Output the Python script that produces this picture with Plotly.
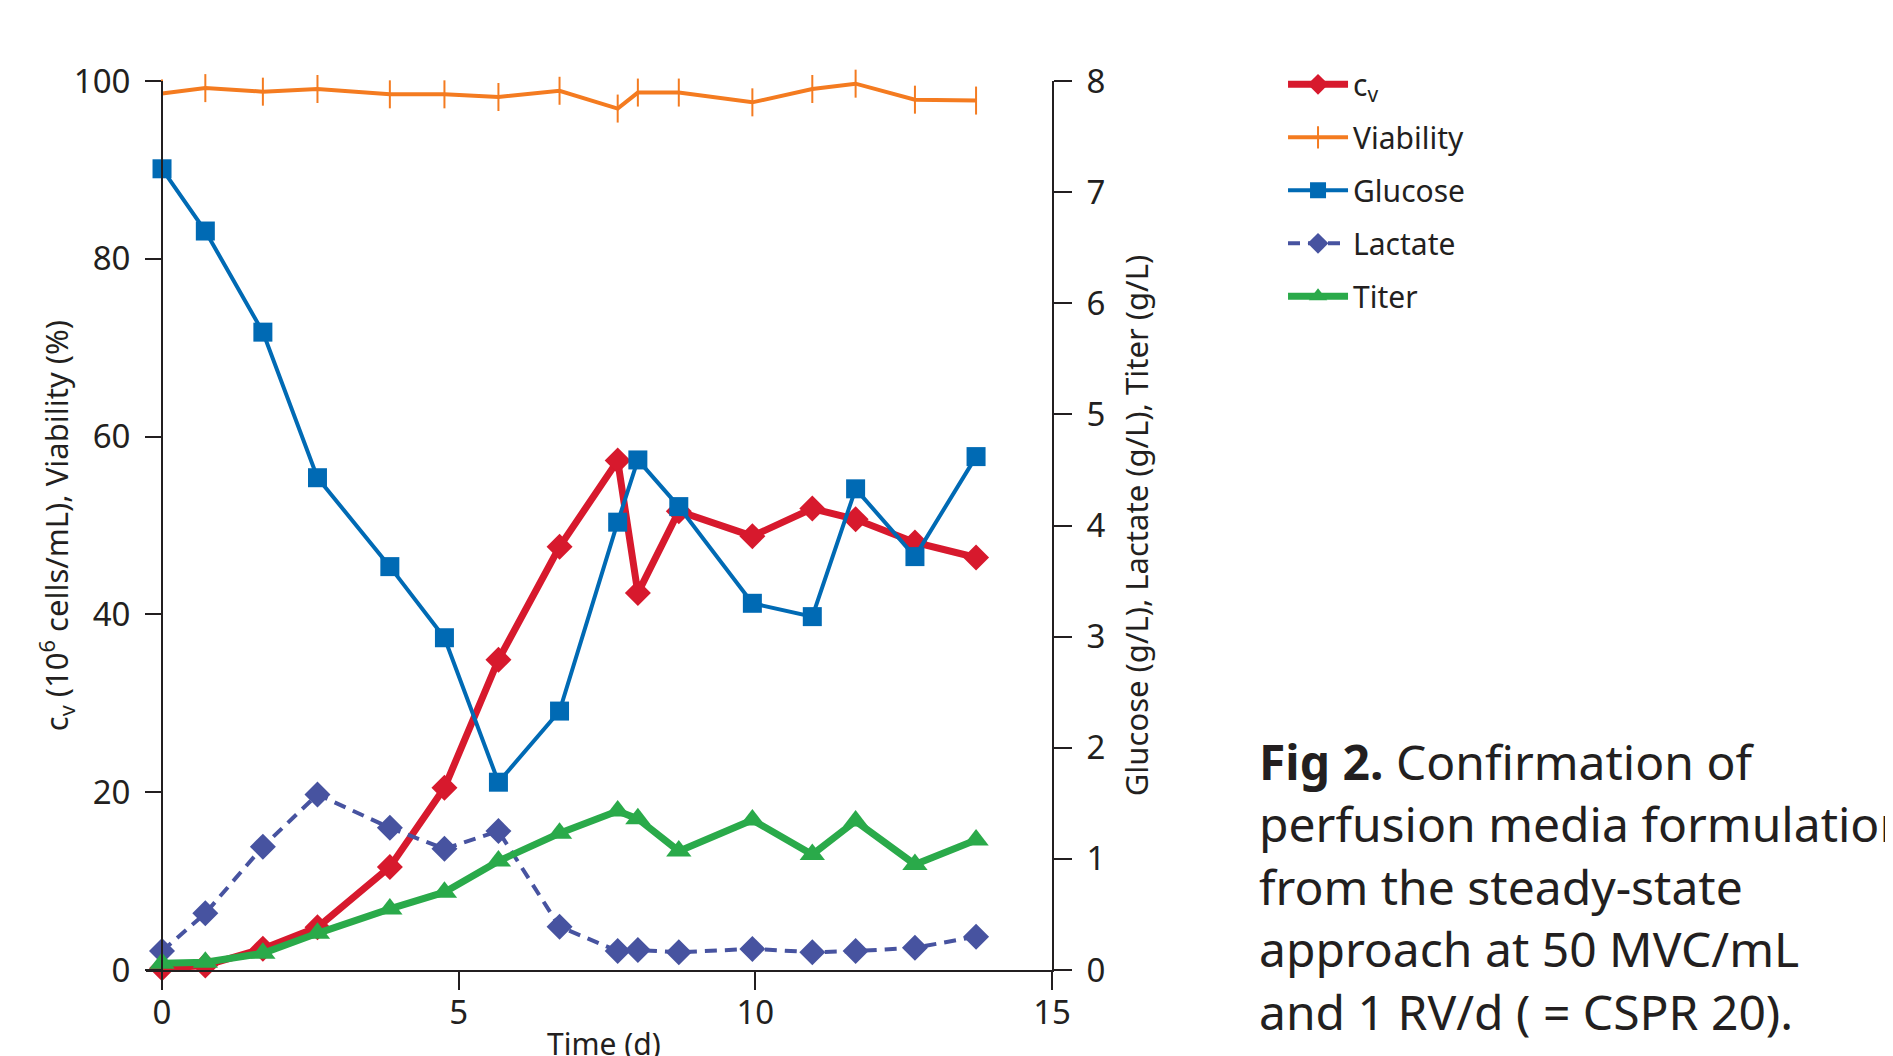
import plotly.graph_objects as go

# ---- data ----
time_d = [0, 0.73, 1.70, 2.62, 3.84, 4.76, 5.67, 6.70, 7.68, 8.02, 8.71, 9.95, 10.96, 11.69, 12.69, 13.72]
cv = [0.2, 0.5, 2.4, 4.8, 11.6, 20.5, 34.9, 47.6, 57.3, 42.4, 51.6, 48.8, 51.9, 50.7, 48.1, 46.4]
viability = [98.6, 99.2, 98.8, 99.1, 98.5, 98.5, 98.2, 98.9, 96.9, 98.7, 98.7, 97.6, 99.1, 99.7, 97.9, 97.8]
glucose = [7.21, 6.65, 5.74, 4.43, 3.63, 2.99, 1.69, 2.33, 4.03, 4.59, 4.17, 3.30, 3.18, 4.33, 3.72, 4.62]
lactate = [0.17, 0.51, 1.11, 1.58, 1.28, 1.09, 1.25, 0.39, 0.17, 0.18, 0.16, 0.19, 0.16, 0.17, 0.20, 0.30]
titer = [0.06, 0.07, 0.15, 0.33, 0.55, 0.70, 0.98, 1.23, 1.43, 1.36, 1.07, 1.35, 1.04, 1.34, 0.95, 1.17]

x_ticks = [0, 5, 10, 15]
y_left_ticks = [0, 20, 40, 60, 80, 100]
y_right_ticks = [0, 1, 2, 3, 4, 5, 6, 7, 8]

RED = "#D7192D"
ORANGE = "#F47B20"
BLUE = "#006AB4"
SLATE = "#4753A0"
GREEN = "#2AAA4A"
INK = "#231F20"
FONT = "Noto Sans"

X_MIN = -0.27
X_MAX = 15

fig = go.Figure()

fig.add_trace(go.Scatter(
    x=time_d, y=cv, name="c<sub>v</sub>", mode="lines+markers", yaxis="y",
    line=dict(color=RED, width=7),
    marker=dict(symbol="diamond", size=20, color=RED),
    legendrank=1, legendgroup="a", cliponaxis=False))
fig.add_trace(go.Scatter(
    x=time_d, y=viability, name="Viability", mode="lines+markers", yaxis="y",
    line=dict(color=ORANGE, width=4),
    marker=dict(symbol="line-ns", size=20, color=ORANGE, line=dict(width=2, color=ORANGE)),
    legendrank=2, legendgroup="b", cliponaxis=False))
fig.add_trace(go.Scatter(
    x=time_d, y=lactate, name="Lactate", mode="lines+markers", yaxis="y2",
    line=dict(color=SLATE, width=4, dash="12px,8px"),
    marker=dict(symbol="diamond", size=20, color=SLATE),
    legendrank=4, legendgroup="d", cliponaxis=False))
fig.add_trace(go.Scatter(
    x=time_d, y=titer, name="Titer", mode="lines+markers", yaxis="y2",
    line=dict(color=GREEN, width=7),
    marker=dict(symbol="triangle-up", size=22, color=GREEN),
    legendrank=5, legendgroup="e", cliponaxis=False))
fig.add_trace(go.Scatter(
    x=time_d, y=glucose, name="Glucose", mode="lines+markers", yaxis="y2",
    line=dict(color=BLUE, width=4),
    marker=dict(symbol="square", size=19, color=BLUE),
    legendrank=3, legendgroup="c", cliponaxis=False))

left_pos = (0 - X_MIN) / (X_MAX - X_MIN)

axis_common = dict(
    showgrid=False, zeroline=False, showline=True, linecolor=INK, linewidth=2,
    ticks="outside", tickcolor=INK, tickwidth=2,
    tickfont=dict(family=FONT, size=33, color=INK),
)

fig.update_layout(
    width=1885, height=1048,
    margin=dict(l=138, r=841, t=73, b=86, autoexpand=False),
    plot_bgcolor="white", paper_bgcolor="white",
    font=dict(family=FONT, color=INK),
    xaxis=dict(
        range=[X_MIN, X_MAX], tickvals=x_ticks, ticklen=18, ticklabelstandoff=-6,
        automargin=False, **axis_common),
    yaxis=dict(
        range=[0, 100], tickvals=y_left_ticks, ticklen=16, ticklabelstandoff=8,
        anchor="free", position=left_pos,
        automargin=False, **axis_common),
    yaxis2=dict(
        range=[0, 8], tickvals=y_right_ticks, ticklen=18, ticklabelstandoff=8,
        overlaying="y", side="right", anchor="x",
        title=dict(text="Glucose (g/L), Lactate (g/L), Titer (g/L)",
                   font=dict(family=FONT, size=31, color=INK), standoff=22),
        automargin=False, **axis_common),
    legend=dict(
        x=1.255, y=1.0255, xanchor="left", yanchor="top",
        font=dict(family=FONT, size=30, color=INK),
        tracegroupgap=11, bgcolor="rgba(0,0,0,0)", itemwidth=60,
        traceorder="grouped"),
    showlegend=True,
)

# x-axis title (placed below the margin edge, as in the reference)
fig.add_annotation(
    xref="paper", yref="paper", x=0.5056, y=-0.0832, xanchor="center", yanchor="middle",
    showarrow=False, text="Time (d)",
    font=dict(family=FONT, size=30, color=INK),
)

# left y-axis title
fig.add_annotation(
    xref="paper", yref="paper", x=-0.0986, y=0.5, xanchor="center", yanchor="middle",
    showarrow=False, textangle=-90,
    text="c<sub>v</sub> (10<sup>6</sup> cells/mL), Viability (%)",
    font=dict(family=FONT, size=31, color=INK),
)

fig.add_annotation(
    xref="paper", yref="paper", x=1.2258, y=0.2735, xanchor="left", yanchor="top",
    align="left", showarrow=False,
    text=("<b>Fig 2.</b> Confirmation of<br>perfusion media formulation<br>"
          "from the steady-state<br>approach at 50 MVC/mL<br>and 1 RV/d ( = CSPR 20)."),
    font=dict(family=FONT, size=48, color=INK),
)

fig.write_html("out.html")
